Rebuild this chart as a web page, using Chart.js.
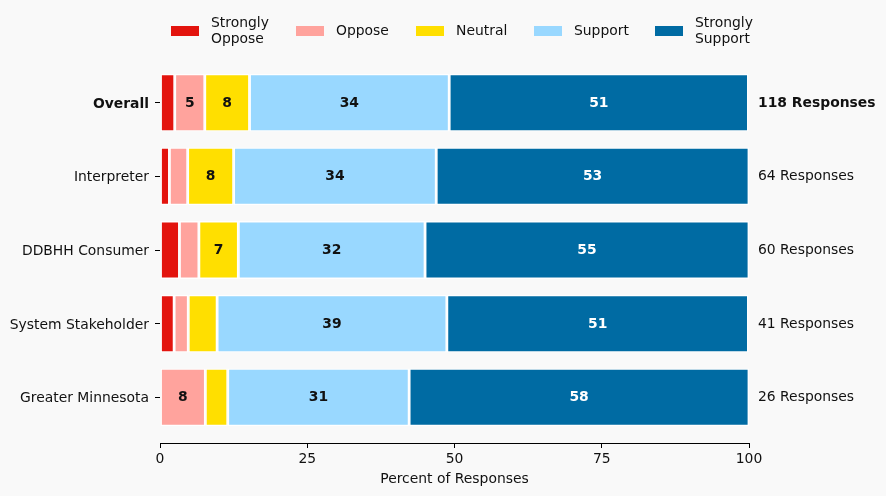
<!DOCTYPE html>
<html>
<head>
<meta charset="utf-8">
<script src="https://cdn.jsdelivr.net/npm/chart.js@4"></script>
<style>
  html, body { margin: 0; padding: 0; background: #f9f9f9; }
  #wrap { width: 886px; height: 496px; }
</style>
</head>
<body>
<div id="wrap"><canvas id="c" width="886" height="496"></canvas></div>
<script>
const categories = ['Overall', 'Interpreter', 'DDBHH Consumer', 'System Stakeholder', 'Greater Minnesota'];
const responses = [118, 64, 60, 41, 26];
const seriesNames = ['Strongly\nOppose', 'Oppose', 'Neutral', 'Support', 'Strongly\nSupport'];
const stronglyOppose = [2.5, 1.6, 3.3, 2.4, 0];
const oppose = [5.1, 3.1, 3.3, 2.4, 7.7];
const neutral = [7.6, 7.8, 6.7, 4.9, 3.8];
const support = [33.9, 34.4, 31.7, 39.0, 30.8];
const stronglySupport = [50.8, 53.1, 55.0, 51.2, 57.7];
const xTicks = [0, 25, 50, 75, 100];
const colors = ['#e3140e', '#ffa39d', '#ffdf00', '#99d8ff', '#006ba3'];
const labelColors = ['#111', '#111', '#111', '#111', '#ffffff'];

const FONT = 'DejaVu Sans';
const FS = 13.9;
const TXT = '#111';

const allSeries = [stronglyOppose, oppose, neutral, support, stronglySupport];
const datasets = allSeries.map((vals, k) => ({
  label: seriesNames[k],
  data: vals.map((v, i) => ({ x: v, y: i })),
  backgroundColor: colors[k],
  borderColor: '#ffffff',
  borderWidth: 1.4,
  borderSkipped: false,
  barPercentage: 0.785,
  categoryPercentage: 1.0
}));

const valueLabels = {
  id: 'valueLabels',
  afterDatasetsDraw(chart) {
    const ctx = chart.ctx;
    ctx.save();
    ctx.font = `bold ${FS}px "${FONT}"`;
    ctx.textAlign = 'center';
    ctx.textBaseline = 'middle';
    chart.data.datasets.forEach((ds, k) => {
      const meta = chart.getDatasetMeta(k);
      meta.data.forEach((el, i) => {
        const v = ds.data[i].x;
        if (v < 5) return;
        const p = el.getProps(['x', 'y', 'base'], true);
        ctx.fillStyle = labelColors[k];
        ctx.fillText(String(Math.round(v)), (p.x + p.base) / 2, p.y + 0.5);
      });
    });
    const ys = chart.scales.y;
    ctx.textAlign = 'left';
    ctx.fillStyle = TXT;
    responses.forEach((n, i) => {
      ctx.font = `${i === 0 ? 'bold ' : ''}${FS}px "${FONT}"`;
      ctx.fillText(n + ' Responses', chart.chartArea.right + 9, ys.getPixelForValue(i) + 0.5);
    });
    ctx.restore();
  }
};

const legendPlugin = {
  id: 'customLegend',
  afterDraw(chart) {
    const ctx = chart.ctx;
    const boxX = [171, 296, 416, 534, 655];
    ctx.save();
    ctx.font = `${FS}px "${FONT}"`;
    ctx.textAlign = 'left';
    ctx.textBaseline = 'middle';
    chart.data.datasets.forEach((ds, k) => {
      const x = boxX[k];
      ctx.fillStyle = ds.backgroundColor;
      ctx.fillRect(x, 26, 28, 10);
      ctx.fillStyle = TXT;
      const lines = ds.label.split('\n');
      if (lines.length === 1) {
        ctx.fillText(lines[0], x + 40, 31.5);
      } else {
        ctx.fillText(lines[0], x + 40, 23);
        ctx.fillText(lines[1], x + 40, 39);
      }
    });
    ctx.restore();
  }
};

new Chart(document.getElementById('c'), {
  type: 'bar',
  data: { datasets },
  options: {
    indexAxis: 'y',
    responsive: false,
    animation: false,
    devicePixelRatio: 1,
    layout: { padding: { left: 0, right: 137, top: 57, bottom: 0 } },
    plugins: {
      legend: { display: false },
      tooltip: { enabled: false }
    },
    scales: {
      x: {
        type: 'linear',
        stacked: true,
        min: 0,
        max: 100,
        offset: false,
        afterBuildTicks(scale) { scale.ticks = xTicks.map(v => ({ value: v })); },
        afterFit(scale) { scale.height = 53; },
        grid: { offset: false, drawOnChartArea: false, drawTicks: true, tickLength: 5, color: '#000', lineWidth: 1 },
        border: { display: true, color: '#000', width: 1 },
        ticks: { color: TXT, font: { family: FONT, size: FS }, padding: 3, maxRotation: 0 },
        title: { display: true, text: 'Percent of Responses', color: TXT, font: { family: FONT, size: FS }, padding: { top: 2, bottom: 8 } }
      },
      y: {
        type: 'linear',
        stacked: true,
        reverse: true,
        offset: false,
        min: -0.62,
        max: 4.62,
        afterBuildTicks(scale) { scale.ticks = categories.map((c, i) => ({ value: i })); },
        afterFit(scale) { scale.width = 160; },
        grid: { offset: false, drawOnChartArea: false, drawTicks: true, tickLength: 5, color: '#000', lineWidth: 1 },
        border: { display: false },
        ticks: {
          color: TXT,
          padding: 6,
          labelOffset: 1.5,
          callback: (v) => categories[v],
          font: (c) => ({ family: FONT, size: FS, weight: (c.tick && c.tick.value === 0) ? 'bold' : 'normal' })
        }
      }
    }
  },
  plugins: [valueLabels, legendPlugin]
});
</script>
</body>
</html>
